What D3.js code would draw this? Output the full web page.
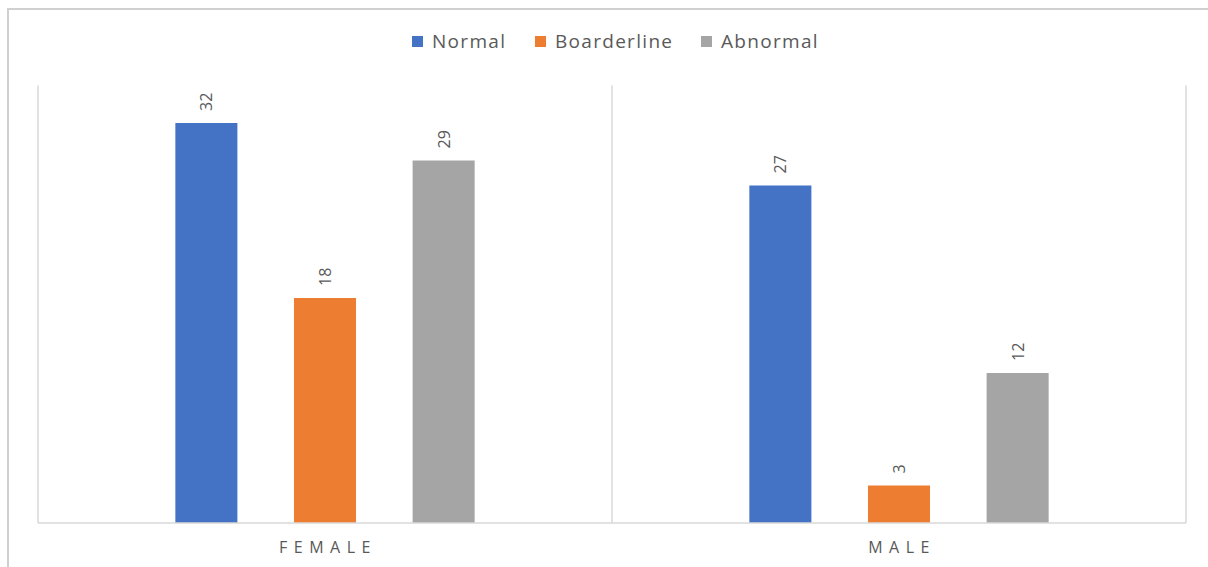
<!DOCTYPE html>
<html>
<head>
  <meta charset="utf-8" />
  <script src="https://d3js.org/d3.v7.min.js"></script>
  <style>
    body{margin:0;background:#fff;}
    text{font-family:"Open Sans",sans-serif;fill:#595959;}
  </style>
</head>
<body>
<script>
//chart data
var categories = ['FEMALE','MALE'];
var seriesNames = ['Normal','Boarderline','Abnormal'];
var normal = [32,27];
var boarderline = [18,3];
var abnormal = [29,12];
var colors = ['#4472C4','#ED7D31','#A5A5A5'];

var values = [normal, boarderline, abnormal];
var W = 1208, H = 567;
var plotLeft = 38, plotRight = 1186, plotTop = 85.5, plotBottom = 523;

var svg = d3.select('body').append('svg').attr('width',W).attr('height',H);

//outer frame (top and left edges are visible)
svg.append('path').attr('d','M8,567V9H1208')
  .attr('fill','none').attr('stroke','#d0d0d0').attr('stroke-width',2);

var y = d3.scaleLinear().domain([0,35]).range([plotBottom,plotTop]);
var x0 = d3.scaleBand().domain(categories).range([plotLeft,plotRight]).paddingInner(0.38).paddingOuter(0.19);
var x1 = d3.scaleBand().domain(seriesNames).range([0,x0.bandwidth()]).paddingInner(0.477).paddingOuter(0.2385);

//category separators
var seps = [plotLeft, plotLeft + (plotRight-plotLeft)/2, plotRight];
svg.selectAll('.sep').data(seps).enter().append('line')
  .attr('x1',function(d){return d}).attr('x2',function(d){return d})
  .attr('y1',plotTop).attr('y2',plotBottom)
  .attr('stroke','#d9d9d9').attr('stroke-width',1.5);

//bars
var groups = svg.selectAll('.grp').data(categories).enter().append('g')
  .attr('transform',function(c){return 'translate('+x0(c)+',0)'});
groups.each(function(c,ci){
  var g = d3.select(this);
  seriesNames.forEach(function(s,si){
    var v = values[si][ci];
    g.append('rect')
      .attr('x',x1(s)).attr('width',x1.bandwidth())
      .attr('y',y(v)).attr('height',y(0)-y(v))
      .attr('fill',colors[si]);
    var cx = x1(s)+x1.bandwidth()/2, ty = y(v)-12;
    g.append('text')
      .attr('transform','translate('+(cx+6)+','+ty+') rotate(-90)')
      .attr('font-size','16px')
      .text(v);
  });
});

//baseline
svg.append('line').attr('x1',plotLeft).attr('x2',plotRight).attr('y1',plotBottom).attr('y2',plotBottom)
  .attr('stroke','#d9d9d9').attr('stroke-width',1.5);

//category labels
svg.selectAll('.cat').data(categories).enter().append('text')
  .attr('x',function(c){return x0(c)+x0.bandwidth()/2+3})
  .attr('y',553)
  .attr('text-anchor','middle')
  .attr('font-size','16px')
  .attr('letter-spacing','6.5px')
  .text(function(d){return d});

//legend
var legX = [412,535,701];
var leg = svg.selectAll('.leg').data(seriesNames).enter().append('g')
  .attr('transform',function(d,i){return 'translate('+legX[i]+',36)'});
leg.append('rect').attr('width',11).attr('height',11).attr('fill',function(d,i){return colors[i]});
leg.append('text').attr('x',20).attr('y',12).attr('font-size','19px')
  .attr('letter-spacing','1.3px').text(function(d){return d});
</script>
</body>
</html>
